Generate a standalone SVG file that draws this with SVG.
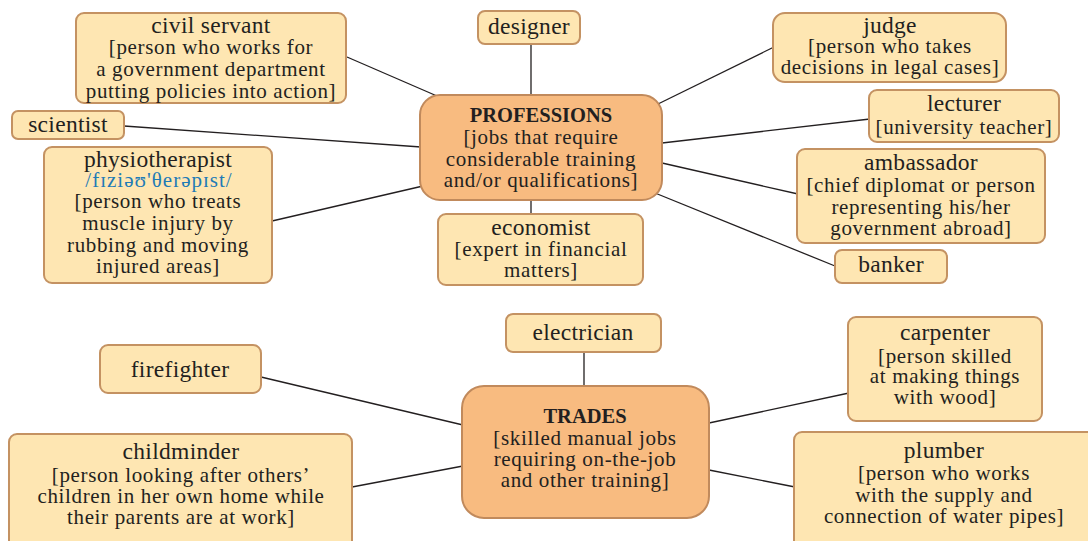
<svg xmlns="http://www.w3.org/2000/svg" width="1088" height="541" viewBox="0 0 1088 541">
<style>
.box{fill:#fee6b2;stroke:#c49262;stroke-width:2}
.hub{fill:#f8bb80;stroke:#c18a5c;stroke-width:2}
text{font-family:"Liberation Serif","DejaVu Serif",serif;fill:#231f20;text-anchor:middle}
.t{font-size:23.5px;letter-spacing:0.3px}
.b{font-size:21px;letter-spacing:0.65px}
.h{font-size:20.5px;font-weight:bold}
.ipa{font-size:21px;fill:#1f7bb6;letter-spacing:1px}
#connectors line{stroke:#231f20;stroke-width:1.3}
</style>
<rect width="1088" height="541" fill="#ffffff"/>
<g id="connectors">
<line x1="347" y1="57" x2="437" y2="96"/>
<line x1="531" y1="44" x2="531" y2="95"/>
<line x1="658" y1="104" x2="774" y2="47"/>
<line x1="124" y1="126" x2="421" y2="147"/>
<line x1="662" y1="143" x2="870" y2="119"/>
<line x1="662" y1="163" x2="798" y2="194"/>
<line x1="655" y1="193" x2="835" y2="266"/>
<line x1="272" y1="221" x2="423" y2="186"/>
<line x1="531" y1="200" x2="531" y2="214"/>
<line x1="584" y1="352" x2="584" y2="386"/>
<line x1="261" y1="377" x2="463" y2="425"/>
<line x1="352" y1="487" x2="463" y2="466"/>
<line x1="709" y1="423" x2="849" y2="393"/>
<line x1="709" y1="470" x2="795" y2="487"/>
</g>
<g id="civil-servant">
<rect class="box" x="76" y="13" width="270" height="90" rx="8"/>
<text class="t" x="211" y="33">civil servant</text>
<text class="b" x="211" y="54">[person who works for</text>
<text class="b" x="211" y="76">a government department</text>
<text class="b" x="211" y="98">putting policies into action]</text>
</g>
<g id="designer">
<rect class="box" x="478" y="11" width="102" height="33" rx="7"/>
<text class="t" x="529" y="34">designer</text>
</g>
<g id="judge">
<rect class="box" x="773" y="13" width="233" height="69" rx="12"/>
<text class="t" x="890" y="33">judge</text>
<text class="b" x="890" y="53">[person who takes</text>
<text class="b" x="890" y="74">decisions in legal cases]</text>
</g>
<g id="scientist">
<rect class="box" x="12" y="111" width="112" height="28" rx="6"/>
<text class="t" x="68" y="132">scientist</text>
</g>
<g id="professions">
<rect class="hub" x="420" y="95" width="242" height="105" rx="20"/>
<text class="h" x="541" y="122">PROFESSIONS</text>
<text class="b" x="541" y="144">[jobs that require</text>
<text class="b" x="541" y="166">considerable training</text>
<text class="b" x="541" y="187">and/or qualifications]</text>
</g>
<g id="lecturer">
<rect class="box" x="869" y="90" width="190" height="52" rx="8"/>
<text class="t" x="964" y="111">lecturer</text>
<text class="b" x="964" y="134">[university teacher]</text>
</g>
<g id="physiotherapist">
<rect class="box" x="44" y="147" width="228" height="136" rx="8"/>
<text class="t" x="158" y="167">physiotherapist</text>
<text class="ipa" x="159" y="187">/fɪziəʊ'θerəpɪst/</text>
<text class="b" x="158" y="208">[person who treats</text>
<text class="b" x="158" y="230">muscle injury by</text>
<text class="b" x="158" y="252">rubbing and moving</text>
<text class="b" x="158" y="273">injured areas]</text>
</g>
<g id="ambassador">
<rect class="box" x="797" y="149" width="248" height="94" rx="8"/>
<text class="t" x="921" y="170">ambassador</text>
<text class="b" x="921" y="192">[chief diplomat or person</text>
<text class="b" x="921" y="214">representing his/her</text>
<text class="b" x="921" y="235">government abroad]</text>
</g>
<g id="economist">
<rect class="box" x="438" y="214" width="205" height="71" rx="8"/>
<text class="t" x="541" y="235">economist</text>
<text class="b" x="541" y="256">[expert in financial</text>
<text class="b" x="541" y="277">matters]</text>
</g>
<g id="banker">
<rect class="box" x="835" y="250" width="112" height="33" rx="7"/>
<text class="t" x="891" y="272">banker</text>
</g>
<g id="electrician">
<rect class="box" x="506" y="314" width="155" height="38" rx="7"/>
<text class="t" x="583" y="340">electrician</text>
</g>
<g id="firefighter">
<rect class="box" x="100" y="345" width="161" height="48" rx="8"/>
<text class="t" x="180" y="377">firefighter</text>
</g>
<g id="carpenter">
<rect class="box" x="848" y="317" width="194" height="104" rx="8"/>
<text class="t" x="945" y="340">carpenter</text>
<text class="b" x="945" y="363">[person skilled</text>
<text class="b" x="945" y="383">at making things</text>
<text class="b" x="945" y="404">with wood]</text>
</g>
<g id="trades">
<rect class="hub" x="462" y="386" width="247" height="132" rx="22"/>
<text class="h" x="585" y="423">TRADES</text>
<text class="b" x="585" y="445">[skilled manual jobs</text>
<text class="b" x="585" y="466">requiring on-the-job</text>
<text class="b" x="585" y="487">and other training]</text>
</g>
<g id="childminder">
<rect class="box" x="9" y="434" width="343" height="120" rx="8"/>
<text class="t" x="181" y="459">childminder</text>
<text class="b" x="181" y="482">[person looking after others’</text>
<text class="b" x="181" y="503">children in her own home while</text>
<text class="b" x="181" y="524">their parents are at work]</text>
</g>
<g id="plumber">
<rect class="box" x="794" y="432" width="302" height="122" rx="8"/>
<text class="t" x="944" y="458">plumber</text>
<text class="b" x="944" y="480">[person who works</text>
<text class="b" x="944" y="502">with the supply and</text>
<text class="b" x="944" y="523">connection of water pipes]</text>
</g>
</svg>
